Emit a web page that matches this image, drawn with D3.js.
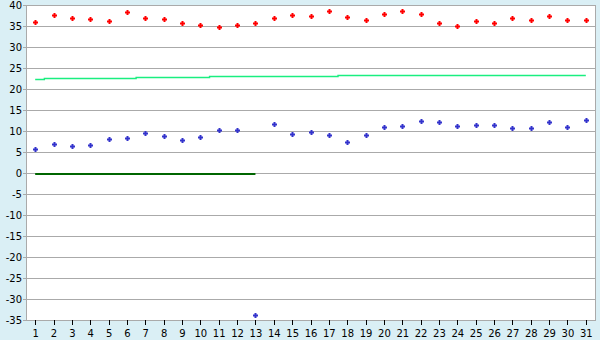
<!DOCTYPE html>
<html>
<head>
<meta charset="utf-8">
<script src="https://cdn.jsdelivr.net/npm/d3@7"></script>
<style>
  body { margin: 0; background: #daeff5; }
  svg { display: block; }
  text { font-family: "DejaVu Sans", Verdana, sans-serif; font-size: 10px; fill: #000; }
</style>
</head>
<body>
<script>
var width = 600,
    height = 340;

// days of the month
var days = d3.range(1, 32);

// red markers (upper series)
var redValues = [35.9, 37.5, 36.8, 36.6, 36.1, 38.3, 36.8, 36.6, 35.6, 35.2,
                 34.7, 35.2, 35.6, 36.8, 37.5, 37.3, 38.5, 37.1, 36.4, 37.8,
                 38.5, 37.8, 35.6, 34.9, 36.1, 35.6, 36.8, 36.4, 37.3, 36.4, 36.4];

// blue markers (lower series)
var blueValues = [5.6, 6.8, 6.4, 6.6, 8.0, 8.3, 9.5, 8.7, 7.8, 8.5,
                  10.2, 10.2, -33.9, 11.6, 9.2, 9.7, 9.0, 7.5, 9.0, 10.9,
                  11.1, 12.3, 12.1, 11.1, 11.4, 11.4, 10.6, 10.6, 12.1, 10.9, 12.6];

// light green step line
var stepValues = [22.3, 22.55, 22.55, 22.55, 22.55, 22.55, 22.8, 22.8, 22.8, 22.8,
                  23.05, 23.05, 23.05, 23.05, 23.05, 23.05, 23.05, 23.3, 23.3, 23.3,
                  23.3, 23.3, 23.3, 23.3, 23.3, 23.3, 23.3, 23.3, 23.3, 23.3, 23.3];

// dark green line at zero, days 1..13
var zeroDays = d3.range(1, 14);
var zeroValues = zeroDays.map(function () { return 0; });

var yTicks = d3.range(-35, 45, 5);

var x = d3.scaleBand()
    .domain(days)
    .range([26, 595])
    .paddingInner(0)
    .paddingOuter(0);

var y = d3.scaleLinear()
    .domain([-35, 40])
    .range([320, 5]);

function cx(d) { return x(d) + x.bandwidth() / 2; }

var svg = d3.select("body").append("svg")
    .attr("width", width)
    .attr("height", height);

// plot background
svg.append("rect")
    .attr("x", x.range()[0])
    .attr("y", y(40))
    .attr("width", x.range()[1] - x.range()[0])
    .attr("height", y(-35) - y(40))
    .attr("fill", "#fff");

// gridlines
svg.append("g")
    .selectAll("line")
    .data(yTicks)
    .enter().append("line")
    .attr("x1", x.range()[0] - 3)
    .attr("x2", x.range()[1])
    .attr("y1", function (d) { return Math.round(y(d)) + 0.5; })
    .attr("y2", function (d) { return Math.round(y(d)) + 0.5; })
    .attr("stroke", "#aaa");

// frame
svg.append("line")
    .attr("x1", x.range()[0] + 0.5).attr("x2", x.range()[0] + 0.5)
    .attr("y1", y(40)).attr("y2", y(-35) + 1)
    .attr("stroke", "#aaa");
svg.append("line")
    .attr("x1", x.range()[1] + 0.5).attr("x2", x.range()[1] + 0.5)
    .attr("y1", y(40)).attr("y2", y(-35) + 1)
    .attr("stroke", "#aaa");

// y labels
svg.append("g")
    .selectAll("text")
    .data(yTicks)
    .enter().append("text")
    .attr("x", 22)
    .attr("y", function (d) { return y(d) + 4; })
    .attr("text-anchor", "end")
    .text(function (d) { return d; });

// x axis ticks and labels
var xAxis = svg.append("g");
xAxis.selectAll("line")
    .data(days)
    .enter().append("line")
    .attr("x1", function (d) { return Math.round(cx(d)) + 0.5; })
    .attr("x2", function (d) { return Math.round(cx(d)) + 0.5; })
    .attr("y1", y(-35))
    .attr("y2", y(-35) + 5)
    .attr("stroke", "#000");
xAxis.selectAll("text")
    .data(days)
    .enter().append("text")
    .attr("x", function (d) { return cx(d) + 0.5; })
    .attr("y", 337)
    .attr("text-anchor", "middle")
    .text(function (d) { return d; });

// light green step line
var stepLine = d3.line()
    .x(function (d, i) { return cx(days[i]); })
    .y(function (d) { return Math.round(y(d)) + 0.5; })
    .curve(d3.curveStep);

svg.append("path")
    .datum(stepValues)
    .attr("d", stepLine)
    .attr("fill", "none")
    .attr("stroke", "#1aee80")
    .attr("stroke-width", 1.4);

// dark green zero line
var zeroLine = d3.line()
    .x(function (d, i) { return cx(zeroDays[i]); })
    .y(function (d) { return y(d) + 1; });

svg.append("path")
    .datum(zeroValues)
    .attr("d", zeroLine)
    .attr("fill", "none")
    .attr("stroke", "#006600")
    .attr("stroke-width", 2);

// markers
var marker = "M-1,-2.5H1V-1H2.5V1H1V2.5H-1V1H-2.5V-1H-1Z";

function drawMarkers(values, color) {
    svg.append("g")
        .selectAll("path")
        .data(values)
        .enter().append("path")
        .attr("d", marker)
        .attr("transform", function (d, i) {
            return "translate(" + (Math.round(cx(days[i])) + 0.5) + "," + (Math.round(y(d)) + 0.5) + ")";
        })
        .attr("fill", color);
}

drawMarkers(redValues, "#ff0000");
drawMarkers(blueValues, "#3333cc");
</script>
</body>
</html>
